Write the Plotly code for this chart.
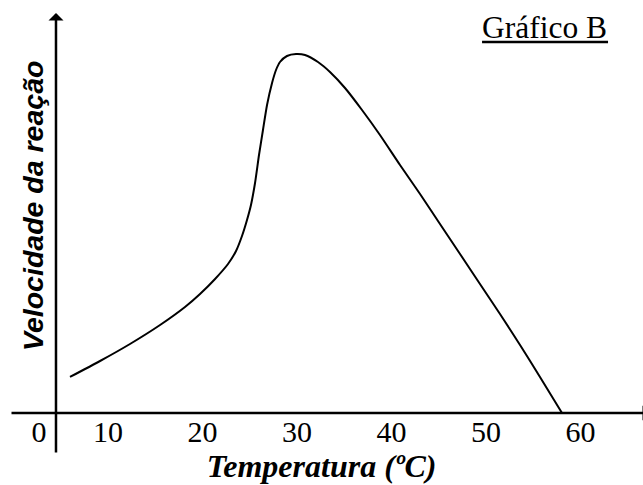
import plotly.graph_objects as go

# Curve (temperature in ºC, relative reaction rate)
temperatura = [5.97, 9.15, 12.32, 15.50, 18.14, 19.73, 21.32, 22.69, 23.54, 24.17,
               24.70, 25.12, 25.55, 25.97, 26.39, 26.82, 27.35, 27.77, 28.19, 28.93,
               29.89, 30.84, 32.21, 33.48, 35.07, 36.87, 38.77, 40.89, 43.01, 45.12,
               47.24, 49.35, 51.47, 53.59, 55.70, 58.03]
velocidade = [10.03, 14.48, 19.22, 24.51, 29.53, 33.15, 37.33, 41.50, 45.13, 49.30,
              53.76, 57.94, 64.07, 71.87, 78.83, 85.79, 91.92, 95.54, 97.77, 99.44,
              100.0, 99.72, 97.77, 94.99, 90.53, 84.40, 77.44, 69.08, 61.00, 52.65,
              44.29, 35.93, 27.58, 18.94, 10.03, 0.0]

tick_vals = [2.69, 10, 20, 30, 40, 50, 60]
tick_text = ["0", "10", "20", "30", "40", "50", "60"]

x_range = [-1.434, 66.60]
y_range = [-20.06, 115.04]

SERIF = "Liberation Serif, Times New Roman, serif"
SANS = "Liberation Sans, Arial, sans-serif"

fig = go.Figure()
fig.add_trace(go.Scatter(
    x=temperatura, y=velocidade, mode="lines",
    line=dict(color="black", width=2, shape="spline", smoothing=0.6),
    hoverinfo="skip", showlegend=False,
))

# axes drawn as arrows
fig.add_annotation(x=67.34, y=0, ax=-0.376, ay=0, xref="x", yref="y",
                   axref="x", ayref="y", text="", showarrow=True,
                   arrowhead=1, arrowsize=1.0, arrowwidth=2.5, arrowcolor="black")
fig.add_annotation(x=4.49, y=111.42, ax=4.49, ay=-11.42, xref="x", yref="y",
                   axref="x", ayref="y", text="", showarrow=True,
                   arrowhead=1, arrowsize=1.0, arrowwidth=2.5, arrowcolor="black")

# y-axis title
fig.add_annotation(x=2.06, y=57.66, xref="x", yref="y", showarrow=False,
                   text="<b><i>Velocidade da reação</i></b>", textangle=-90,
                   font=dict(family=SANS, size=28.5, color="black"))

# Gráfico B label with underline
fig.add_annotation(x=56.23, y=107.5, xref="x", yref="y", showarrow=False,
                   text="Gráfico B", font=dict(family=SERIF, size=31.5, color="black"))
fig.add_shape(type="line", x0=49.57, x1=62.90, y0=103.34, y1=103.34,
              xref="x", yref="y", line=dict(color="black", width=2.5))

fig.update_layout(
    width=643, height=485,
    margin=dict(l=0, r=0, t=0, b=0),
    paper_bgcolor="white", plot_bgcolor="white",
    template="none",
    showlegend=False,
    xaxis=dict(
        range=x_range, anchor="free", position=72 / 485,
        showgrid=False, zeroline=False, showline=False,
        tickvals=tick_vals, ticktext=tick_text,
        ticks="", ticklabelstandoff=-2,
        tickfont=dict(family=SERIF, size=30, color="black"),
        title=dict(text="<b><i>Temperatura (ºC)</i></b>", standoff=0,
                   font=dict(family=SERIF, size=32, color="black")),
        automargin=False, fixedrange=True,
    ),
    yaxis=dict(range=y_range, visible=False, showgrid=False, zeroline=False,
               automargin=False, fixedrange=True),
)

fig.write_html("out.html", config={"displayModeBar": False},
               post_script="document.body.style.margin='0';document.body.style.overflow='hidden';")
